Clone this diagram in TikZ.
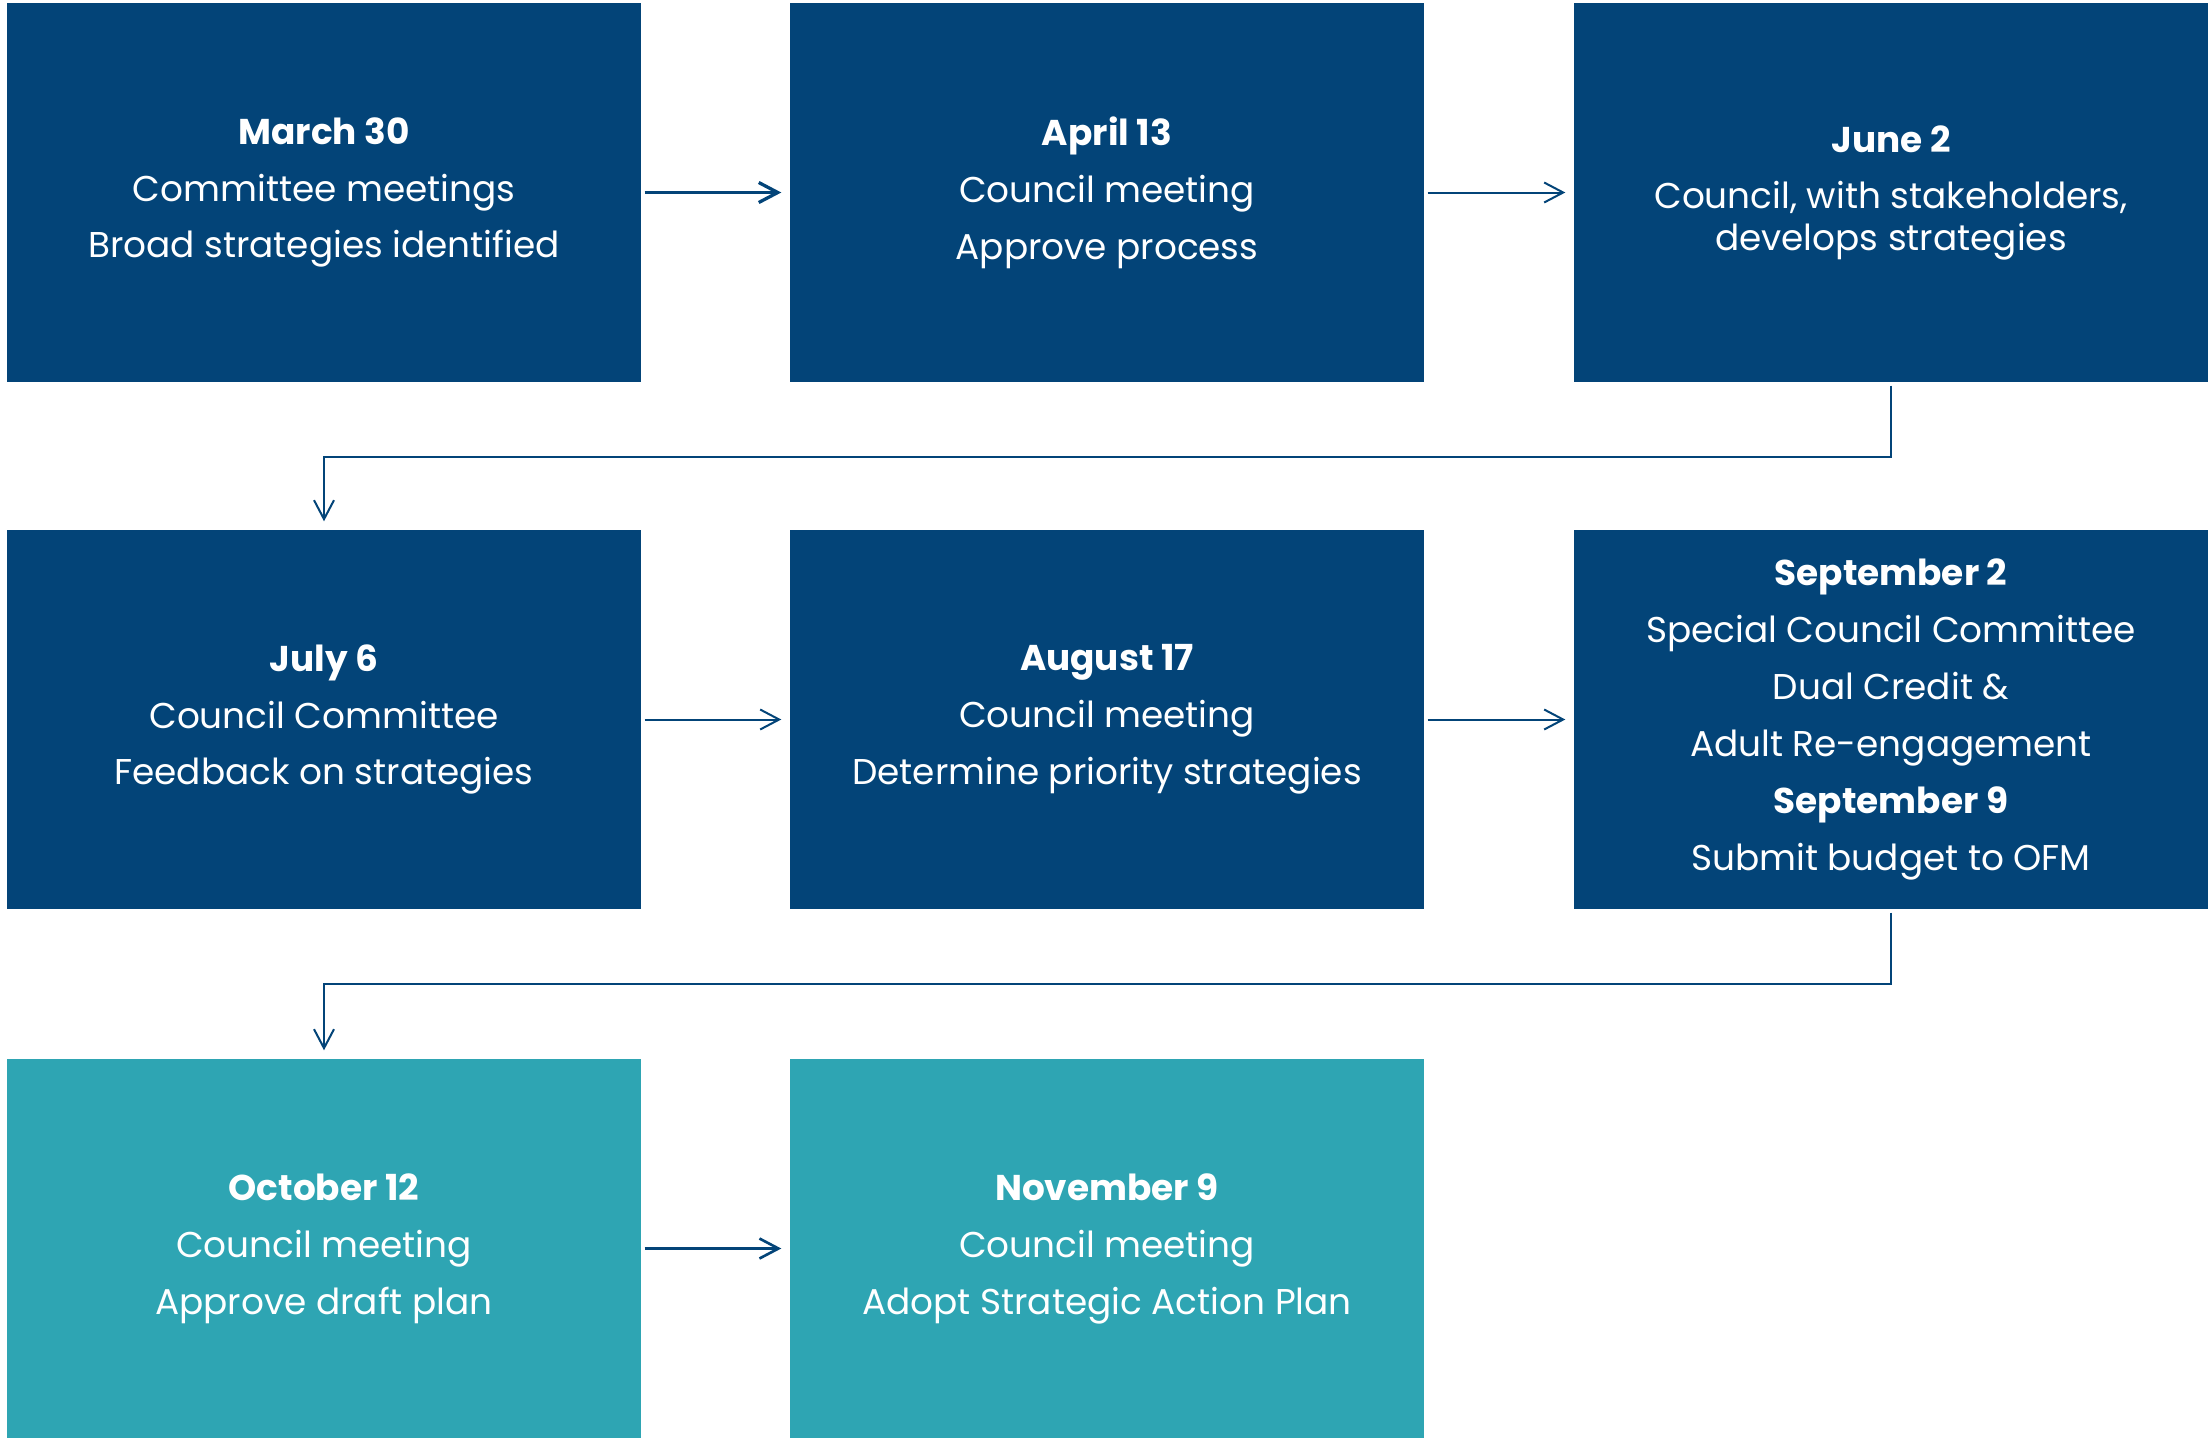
\documentclass[tikz,border=0pt]{standalone}
\usepackage{fontspec}
\setmainfont{Poppins}
\usetikzlibrary{arrows.meta}
\definecolor{darkblue}{RGB}{3,68,120}
\definecolor{boxteal}{RGB}{46,165,179}

\begin{document}
\begin{tikzpicture}[
    box/.style={fill=darkblue, text=white, minimum width=6.34cm, minimum height=3.79cm, inner sep=0pt, align=center, font=\fontsize{10.2}{16.2}\selectfont},
    latebox/.style={box, fill=boxteal},
    arr/.style={-{Straight Barb[length=0.19cm,width=0.2cm]}, draw=darkblue, line width=0.57pt, shorten <=0.03cm, shorten >=0.08cm}]
    \useasboundingbox (0,0) rectangle (22.11,-14.40);

    \node[box] (mar) at (3.24,-1.925) {\textbf{March 30}\\Committee meetings\\Broad strategies identified};
    \node[box] (apr) at (11.07,-1.925) {\textbf{April 13}\\Council meeting\\Approve process};
    \node[box] (jun) at (18.91,-1.925) {\textbf{June 2}\\Council, with stakeholders,\\[-4.5pt]develops strategies};
    \node[box] (jul) at (3.24,-7.195) {\textbf{July 6}\\Council Committee\\Feedback on strategies};
    \node[box] (aug) at (11.07,-7.195) {\textbf{August 17}\\Council meeting\\Determine priority strategies};
    \node[box] (sep) at (18.91,-7.195) {\textbf{September 2}\\Special Council Committee\\Dual Credit \&\\Adult Re-engagement\\\textbf{September 9}\\Submit budget to OFM};
    \node[latebox] (oct) at (3.24,-12.485) {\textbf{October 12}\\Council meeting\\Approve draft plan};
    \node[latebox] (nov) at (11.07,-12.485) {\textbf{November 9}\\Council meeting\\Adopt Strategic Action Plan};

    \draw[arr, line width=0.94pt] (mar) -- (apr);
    \draw[arr] (apr) -- (jun);
    \draw[arr] (jun.south) -- ++(0,-0.745) -| (jul.north);
    \draw[arr] (jul) -- (aug);
    \draw[arr] (aug) -- (sep);
    \draw[arr] (sep.south) -- ++(0,-0.745) -| (oct.north);
    \draw[arr, line width=0.75pt] (oct) -- (nov);
\end{tikzpicture}
\end{document}
